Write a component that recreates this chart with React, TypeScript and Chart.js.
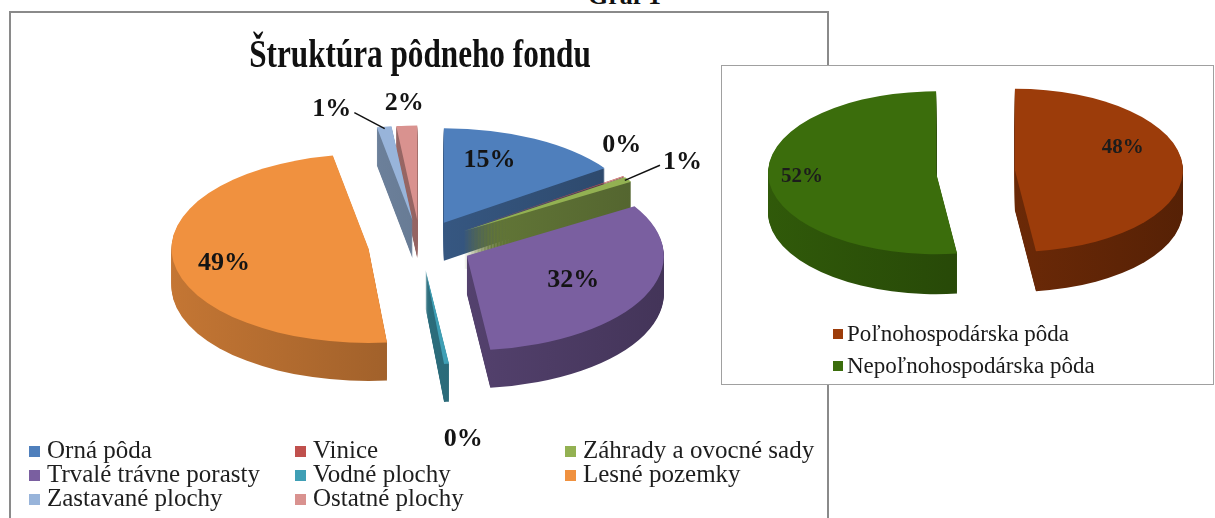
import React, { useEffect, useRef } from 'react';
import { Chart, registerables } from 'chart.js';

Chart.register(...registerables);

// ---------- data ----------
const figureCaption = 'Graf 1';
const landTitle = 'Štruktúra pôdneho fondu';
const landCategories = [
  'Orná pôda',
  'Vinice',
  'Záhrady a ovocné sady',
  'Trvalé trávne porasty',
  'Vodné plochy',
  'Lesné pozemky',
  'Zastavané plochy',
  'Ostatné plochy',
];
const landShares = [15.2, 0.1, 0.9, 31.9, 0.4, 48.6, 1.2, 1.7];

const useCategories = ['Poľnohospodárska pôda', 'Nepoľnohospodárska pôda'];
const useShares = [48, 52];

// ---------- styles ----------
const landColors = ['#4f7fbc', '#c0504d', '#93b152', '#7a5fa0', '#3f9fb5', '#f0913f', '#98b4da', '#d9928f'];
const useColors = ['#9c3c0a', '#3b6d0c'];
// label placement (fraction of radius, turn in degrees, leader line)
const landLabelDist = [0.7, 1.21, 1.33, 0.6, 1.8, 0.75, 1.24, 1.24];
const landLabelTurn = [-8, -13, 0, 0, 0, -4, -11, 0];
const landLeader = [false, false, true, false, false, false, true, false];
const useLabelDist = [0.7, 0.8];
const useLabelTurn = [-20, 0];
const useLeader = [false, false];

const SERIF = '"Liberation Serif", "Times New Roman", serif';

function shade(hex: string, f: number) {
  const n = parseInt(hex.slice(1), 16);
  const r = Math.round(((n >> 16) & 255) * f);
  const g = Math.round(((n >> 8) & 255) * f);
  const b = Math.round((n & 255) * f);
  return `rgb(${r},${g},${b})`;
}

type Pie3DCfg = {
  tilt: number;
  depth: number;
  explode: number;
  labelDist: number[];
  labelTurn: number[];
  leader: boolean[];
  font: string;
  labelColor: string;
};

function makePie3D(cfg: Pie3DCfg) {
  return {
    id: 'pie3d',
    beforeDatasetsDraw(chart: any) {
      const ctx: CanvasRenderingContext2D = chart.ctx;
      const arcs = chart.getDatasetMeta(0).data as any[];
      const colors = chart.data.datasets[0].backgroundColor as string[];
      if (!arcs.length) return false;
      const R = arcs[0].outerRadius;
      const cx = arcs[0].x;
      const sideFills = colors.map((c) => {
        const g = ctx.createLinearGradient(cx - R - cfg.explode, 0, cx + R + cfg.explode, 0);
        g.addColorStop(0, shade(c, 0.85));
        g.addColorStop(1, shade(c, 0.52));
        return g;
      });
      const drawArc = (arc: any, dy: number, fill: any) => {
        const mid = (arc.startAngle + arc.endAngle) / 2;
        ctx.save();
        ctx.translate(0, dy);
        ctx.translate(arc.x, arc.y);
        ctx.scale(1, cfg.tilt);
        ctx.translate(-arc.x, -arc.y);
        ctx.translate(Math.cos(mid) * cfg.explode, Math.sin(mid) * cfg.explode);
        const el = Object.create(arc);
        el.options = { ...arc.options, backgroundColor: fill, borderColor: fill, borderWidth: 0, offset: 0 };
        el.draw(ctx);
        ctx.restore();
      };
      for (let dy = cfg.depth; dy >= 1; dy--) {
        arcs.forEach((a, i) => drawArc(a, dy, sideFills[i]));
      }
      arcs.forEach((a, i) => drawArc(a, 0, colors[i]));
      return false;
    },
    afterDraw(chart: any) {
      const ctx: CanvasRenderingContext2D = chart.ctx;
      const arcs = chart.getDatasetMeta(0).data as any[];
      const values = chart.data.datasets[0].data as number[];
      const total = values.reduce((s, v) => s + v, 0);
      ctx.save();
      ctx.font = cfg.font;
      ctx.fillStyle = cfg.labelColor;
      ctx.strokeStyle = '#111';
      ctx.lineWidth = 1.5;
      ctx.textAlign = 'center';
      ctx.textBaseline = 'middle';
      arcs.forEach((arc, i) => {
        const mid = (arc.startAngle + arc.endAngle) / 2;
        const R = arc.outerRadius;
        const vx = arc.x + Math.cos(mid) * cfg.explode;
        const vy = arc.y + Math.sin(mid) * cfg.explode * cfg.tilt;
        const a = mid + (cfg.labelTurn[i] * Math.PI) / 180;
        const d = R * cfg.labelDist[i];
        const lx = vx + Math.cos(a) * d;
        const ly = vy + Math.sin(a) * d * cfg.tilt;
        const text = Math.round((values[i] / total) * 100) + '%';
        if (cfg.leader[i]) {
          const rx = vx + Math.cos(mid) * R * 0.98;
          const ry = vy + Math.sin(mid) * R * 0.98 * cfg.tilt;
          const w = ctx.measureText(text).width;
          const ex = lx + (rx < lx ? -w / 2 - 3 : w / 2 + 3);
          ctx.beginPath();
          ctx.moveTo(ex, ly + 3);
          ctx.lineTo(rx, ry);
          ctx.stroke();
        }
        ctx.fillText(text, lx, ly);
      });
      ctx.restore();
    },
  };
}

export default function App() {
  const leftRef = useRef<HTMLCanvasElement>(null);
  const rightRef = useRef<HTMLCanvasElement>(null);

  useEffect(() => {
    const left = new Chart(leftRef.current as HTMLCanvasElement, {
      type: 'pie',
      data: {
        labels: landCategories,
        datasets: [{ data: landShares, backgroundColor: landColors, borderWidth: 0, clip: false } as any],
      },
      options: {
        responsive: false,
        animation: false,
        events: [],
        radius: 197,
        layout: { padding: { left: 2, right: 0, top: 0, bottom: 41 } },
        plugins: { legend: { display: false }, tooltip: { enabled: false }, title: { display: false } },
      } as any,
      plugins: [
        makePie3D({
          tilt: 0.48,
          depth: 38,
          explode: 52,
          labelDist: landLabelDist,
          labelTurn: landLabelTurn,
          leader: landLeader,
          font: `bold 26px ${SERIF}`,
          labelColor: '#141414',
        }) as any,
      ],
    });
    const right = new Chart(rightRef.current as HTMLCanvasElement, {
      type: 'pie',
      data: {
        labels: useCategories,
        datasets: [{ data: useShares, backgroundColor: useColors, borderWidth: 0, clip: false } as any],
      },
      options: {
        responsive: false,
        animation: false,
        events: [],
        radius: 168,
        layout: { padding: { left: 16, right: 0, top: 0, bottom: 107 } },
        plugins: { legend: { display: false }, tooltip: { enabled: false }, title: { display: false } },
      } as any,
      plugins: [
        makePie3D({
          tilt: 0.485,
          depth: 40,
          explode: 39.5,
          labelDist: useLabelDist,
          labelTurn: useLabelTurn,
          leader: useLeader,
          font: `bold 21px ${SERIF}`,
          labelColor: '#1c1c1c',
        }) as any,
      ],
    });
    return () => {
      left.destroy();
      right.destroy();
    };
  }, []);

  const legendCols = [29, 295, 565];

  return (
    <div style={{ position: 'absolute', left: 0, top: 0, width: 1215, height: 518, overflow: 'hidden', background: '#fff', fontFamily: SERIF }}>
      <div style={{ position: 'absolute', left: 588, top: -17, fontSize: 26, lineHeight: '26px', fontWeight: 'bold', color: '#111', whiteSpace: 'nowrap' }}>
        {figureCaption}
      </div>
      {/* left chart box */}
      <div style={{ position: 'absolute', left: 9, top: 11, width: 820, height: 520, border: '2px solid #8a8a8a', boxSizing: 'border-box', background: '#fff' }} />
      <canvas ref={leftRef} width={816} height={505} style={{ position: 'absolute', left: 11, top: 13, width: 816, height: 505, display: 'block' }} />
      <div style={{ position: 'absolute', left: 120, top: 34, width: 600, textAlign: 'center', fontSize: 40, lineHeight: '40px', fontWeight: 'bold', color: '#111', whiteSpace: 'nowrap', transform: 'scaleX(0.78)', transformOrigin: '300px 0' }}>
        {landTitle}
      </div>
      {landCategories.map((name, i) => {
        const col = i % 3;
        const row = Math.floor(i / 3);
        const x = legendCols[col];
        return (
          <React.Fragment key={name}>
            <div style={{ position: 'absolute', left: x, top: 446 + row * 24, width: 11, height: 11, background: landColors[i] }} />
            <div style={{ position: 'absolute', left: x + 18, top: 438 + row * 24, fontSize: 25, lineHeight: '24px', color: '#1e1e1e', whiteSpace: 'nowrap' }}>
              {name}
            </div>
          </React.Fragment>
        );
      })}
      {/* right chart box */}
      <div style={{ position: 'absolute', left: 721, top: 65, width: 493, height: 320, border: '1px solid #a0a0a0', boxSizing: 'border-box', background: '#fff' }} />
      <canvas ref={rightRef} width={491} height={318} style={{ position: 'absolute', left: 722, top: 66, width: 491, height: 318, display: 'block' }} />
      {useCategories.map((name, i) => (
        <React.Fragment key={name}>
          <div style={{ position: 'absolute', left: 833, top: 329 + i * 32, width: 10, height: 10, background: useColors[i] }} />
          <div style={{ position: 'absolute', left: 847, top: 322 + i * 32, fontSize: 23, lineHeight: '24px', color: '#1a1a1a', whiteSpace: 'nowrap' }}>
            {name}
          </div>
        </React.Fragment>
      ))}
    </div>
  );
}
